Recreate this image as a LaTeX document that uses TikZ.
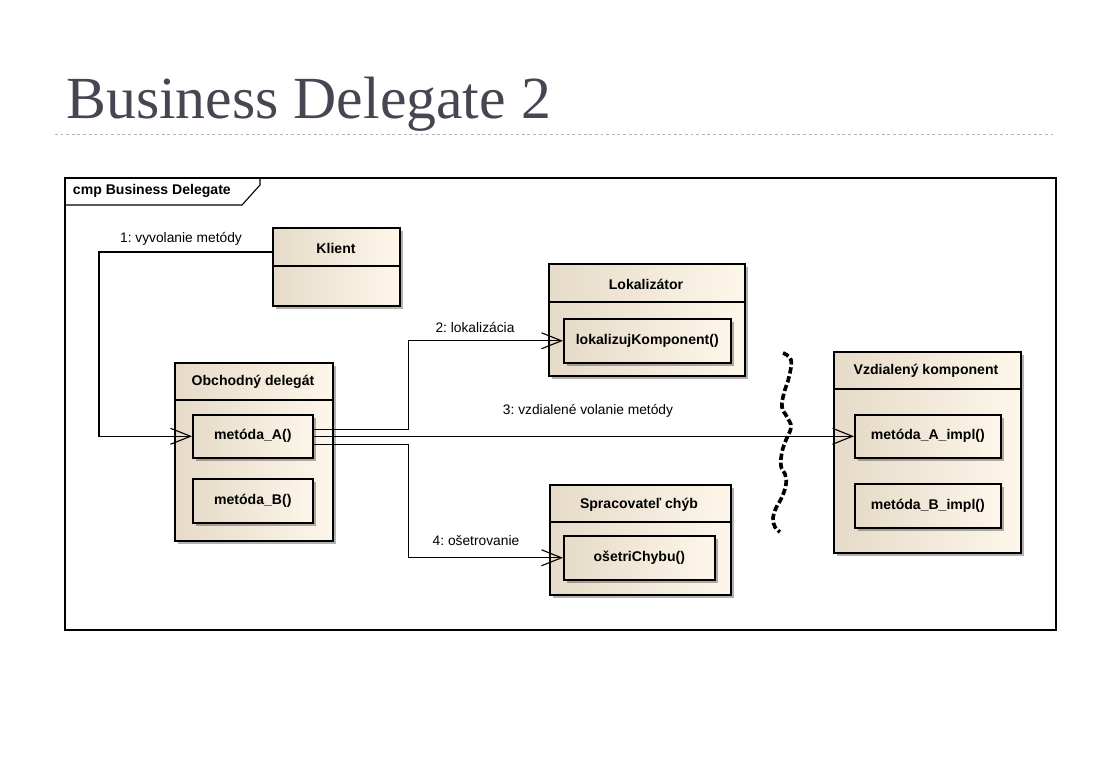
\documentclass[tikz,border=0pt]{standalone}
\usepackage{fontspec}
\setmainfont{Liberation Serif}
\setsansfont{Liberation Sans}
\usetikzlibrary{arrows.meta,shadows}
\frenchspacing

\definecolor{titlegray}{RGB}{70,70,82}
\definecolor{rulegray}{RGB}{170,180,192}
\definecolor{boxdark}{RGB}{230,219,200}
\definecolor{boxlight}{RGB}{253,246,234}

\begin{document}
\begin{tikzpicture}[x=0.025cm, y=-0.025cm,
  umlbox/.style={draw, line width=1.1pt, anchor=north west, inner sep=0pt,
    left color=boxdark, right color=boxlight,
    drop shadow={shadow xshift=0.08cm, shadow yshift=-0.08cm, opacity=0.3, fill=black}},
  opbox/.style={umlbox, font=\sffamily\bfseries\fontsize{10}{12}\selectfont},
  boxtitle/.style={font=\sffamily\bfseries\fontsize{10}{12}\selectfont},
  conn/.style={line width=0.8pt, -{Straight Barb[length=0.5cm, width=0.4cm]}},
  msg/.style={font=\sffamily\fontsize{9.8}{12}\selectfont},
  wave/.style={line width=2.6pt, dash pattern=on 4.5pt off 2pt}
]
  \useasboundingbox (0,0) rectangle (1106,759);

  % Title
  \node[anchor=base west, inner sep=0pt, text=titlegray,
    font=\fontsize{42.5}{50}\selectfont] (title) at (66,118) {Business Delegate 2};
  \draw[rulegray, line width=0.6pt, dash pattern=on 2pt off 2pt] (55,134) -- (1053,134);

  % Frame
  \draw[line width=0.8pt] (65,178) rectangle (1056,630);
  \draw[line width=0.8pt] (65,205) -- (242,205) -- (260,185) -- (260,178);
  \node[boxtitle, anchor=west] (frame) at (68,191) {cmp Business Delegate};

  % Klient
  \node[umlbox, minimum width=3.175cm, minimum height=1.95cm] (klient) at (272,227) {};
  \draw[line width=1.1pt] (klient.west |- 0,266) -- (klient.east |- 0,266);
  \node[boxtitle] (klientT) at (336,248) {Klient};

  % Lokalizator
  \node[umlbox, minimum width=4.9cm, minimum height=2.8cm] (lokal) at (548,263) {};
  \draw[line width=1.1pt] (lokal.west |- 0,302) -- (lokal.east |- 0,302);
  \node[boxtitle] (lokalT) at (646,284) {Lokalizátor};
  \node[opbox, minimum width=4.175cm, minimum height=1.1cm] (lok) at (563,318) {lokalizujKomponent()};

  % Obchodny delegat
  \node[umlbox, minimum width=3.95cm, minimum height=4.45cm] (deleg) at (174,362) {};
  \draw[line width=1.1pt] (deleg.west |- 0,400) -- (deleg.east |- 0,400);
  \node[boxtitle] (delegT) at (253,382) {Obchodný delegát};
  \node[opbox, minimum width=3cm, minimum height=1.075cm] (metA) at (192,414) {metóda\_A()};
  \node[opbox, minimum width=3cm, minimum height=1.1cm] (metB) at (192,478) {metóda\_B()};

  % Vzdialeny komponent
  \node[umlbox, minimum width=4.675cm, minimum height=5.025cm] (vzdial) at (833,351) {};
  \draw[line width=1.1pt] (vzdial.west |- 0,389) -- (vzdial.east |- 0,389);
  \node[boxtitle] (vzdialT) at (926,371) {Vzdialený komponent};
  \node[opbox, minimum width=3.65cm, minimum height=1.075cm] (implA) at (854,414) {metóda\_A\_impl()};
  \node[opbox, minimum width=3.65cm, minimum height=1.1cm] (implB) at (854,483) {metóda\_B\_impl()};

  % Spracovatel chyb
  \node[umlbox, minimum width=4.525cm, minimum height=2.75cm] (sprac) at (549,484) {};
  \draw[line width=1.1pt] (sprac.west |- 0,522) -- (sprac.east |- 0,522);
  \node[boxtitle] (spracT) at (639,505) {Spracovateľ chýb};
  \node[opbox, minimum width=3.775cm, minimum height=1.1cm] (chyba) at (563,535) {ošetriChybu()};

  % Messages
  \draw[conn] (klient.west |- 0,252) -- (99,252) |- (metA.west);
  \node[msg] (m1) at (181,239) {1: vyvolanie metódy};
  \draw[conn] ([yshift=0.175cm]metA.east) -- ++(95,0) |- (lok.west);
  \node[msg] (m2) at (475,327) {2: lokalizácia};
  \draw[conn] (metA.east) -- (implA.west);
  \node[msg] (m3) at (588,411) {3: vzdialené volanie metódy};
  \draw[conn] ([yshift=-0.2cm]metA.east) -- ++(95,0) |- (chyba.west);
  \node[msg] (m4) at (476,541) {4: ošetrovanie};

  % Network boundary
  \draw[wave] plot[smooth, tension=0.7] coordinates {(783,353) (791,360) (789,377) (784,393)
    (782,407) (787,417) (791,427) (786,440) (782,452) (781,466) (785,474) (786,484)
    (782,497) (776,508) (773,518) (775,527) (780,532)};
\end{tikzpicture}
\end{document}
